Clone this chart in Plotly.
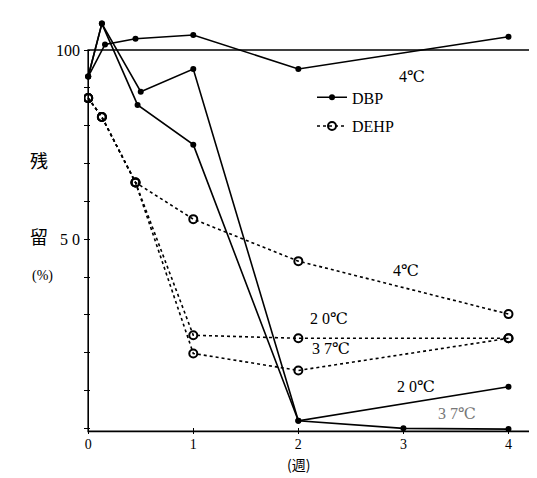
import plotly.graph_objects as go

# time in weeks
t_dbp4 = [0, 0.16, 0.45, 1, 2, 4]
dbp_4 = [93, 101.5, 103, 104, 95, 103.5]
t_dbp20 = [0, 0.13, 0.5, 1, 2, 4]
dbp_20 = [93, 107, 89, 95, 2, 11]
t_dbp37 = [0, 0.13, 0.47, 1, 2, 3, 4]
dbp_37 = [93, 107, 85.5, 75, 2, 0, -0.2]

t_dehp4 = [0, 0.13, 0.45, 1, 2, 4]
dehp_4 = [87.3, 82.3, 65, 55.3, 44.2, 30.2]
t_dehp20 = [0, 0.13, 0.45, 1, 2, 4]
dehp_20 = [87.3, 82.3, 65, 24.6, 23.8, 23.8]
t_dehp37 = [0, 0.13, 0.45, 1, 2, 4]
dehp_37 = [87.3, 82.3, 65, 19.8, 15.3, 23.8]

x_ticks = [0, 1, 2, 3, 4]
x_ticktext = ["0", "1", "2", "3", "4"]
y_ticks = list(range(0, 101, 10))
y_ticktext = ["" if v not in (50, 100) else ("5 0" if v == 50 else "100") for v in y_ticks]

labels = [
    ("4℃", 3.08, 93.1, "black"),
    ("4℃", 3.02, 41.8, "black"),
    ("2 0℃", 2.29, 29.1, "black"),
    ("3 7℃", 2.31, 21.2, "black"),
    ("2 0℃", 3.12, 11.1, "black"),
    ("3 7℃", 3.51, 4.0, "#777777"),
]

serif = "Liberation Serif, DejaVu Serif, serif"
fig = go.Figure()

def dbp(x, y, show):
    fig.add_trace(go.Scatter(x=x, y=y, mode="lines+markers", name="DBP", showlegend=show,
                             legendgroup="dbp",
                             line=dict(color="black", width=1.6),
                             marker=dict(symbol="circle", size=6, color="black")))

def dehp(x, y, show):
    fig.add_trace(go.Scatter(x=x, y=y, mode="lines+markers", name="DEHP", showlegend=show,
                             legendgroup="dehp",
                             line=dict(color="black", width=1.6, dash="dot"),
                             marker=dict(symbol="circle-open", size=8, color="black",
                                         line=dict(width=2))))

dbp(t_dbp4, dbp_4, True)
dbp(t_dbp20, dbp_20, False)
dbp(t_dbp37, dbp_37, False)
dehp(t_dehp4, dehp_4, True)
dehp(t_dehp20, dehp_20, False)
dehp(t_dehp37, dehp_37, False)

# frame
fig.add_shape(type="rect", xref="x", yref="y", x0=0, x1=4.27, y0=-0.8, y1=100,
              line=dict(color="black", width=1.6), layer="below")

for txt, x, y, c in labels:
    fig.add_annotation(x=x, y=y, text=txt, showarrow=False,
                       font=dict(family=serif, size=16, color=c))

fig.add_annotation(xref="paper", yref="paper", x=-0.123, y=0.65, text="残", showarrow=False,
                   font=dict(family="Noto Sans CJK JP", size=18, color="black"))
fig.add_annotation(xref="paper", yref="paper", x=-0.123, y=0.47, text="留", showarrow=False,
                   font=dict(family="Noto Sans CJK JP", size=18, color="black"))
fig.add_annotation(xref="paper", yref="paper", x=-0.118, y=0.375, text="(%)", showarrow=False,
                   font=dict(family=serif, size=14, color="black"))
fig.add_annotation(xref="paper", yref="paper", x=0.47, y=-0.10, text="(週)", showarrow=False,
                   font=dict(family="Noto Sans CJK JP", size=14, color="black"))

fig.update_layout(
    width=537, height=478,
    margin=dict(l=76, r=5, t=5, b=52),
    paper_bgcolor="white", plot_bgcolor="white",
    showlegend=True,
    legend=dict(x=0.5, y=0.84, xanchor="left", yanchor="top",
                bgcolor="rgba(0,0,0,0)", font=dict(family=serif, size=16, color="black"),
                tracegroupgap=5),
    xaxis=dict(range=[-0.04, 4.3], showgrid=False, zeroline=False, showline=False,
               tickvals=x_ticks, ticktext=x_ticktext, ticks="inside", ticklen=6,
               tickcolor="black", tickfont=dict(family=serif, size=14, color="black")),
    yaxis=dict(range=[-1.5, 109.8], showgrid=False, zeroline=False, showline=False,
               tickvals=y_ticks, ticktext=y_ticktext, ticks="inside", ticklen=6,
               tickcolor="black", mirror="ticks", ticklabelstandoff=3,
               tickfont=dict(family=serif, size=16, color="black")),
)

fig.write_html("out.html")
